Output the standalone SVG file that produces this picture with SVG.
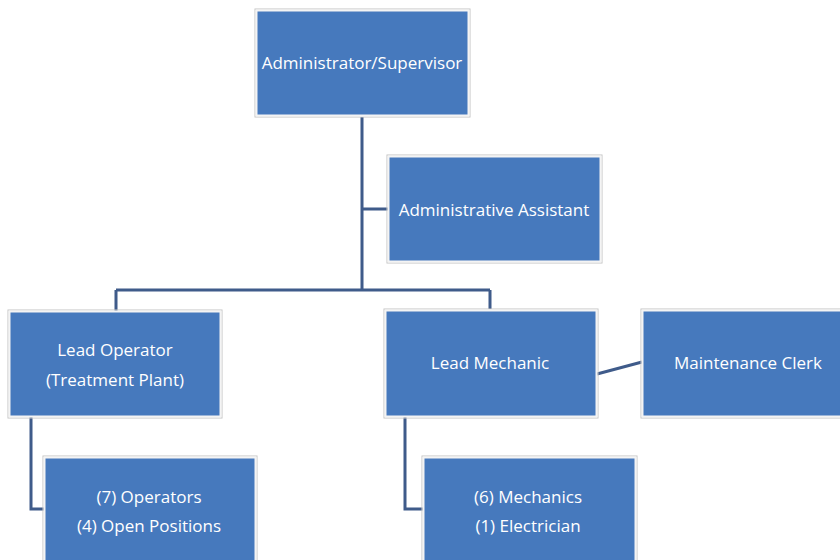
<svg xmlns="http://www.w3.org/2000/svg" width="840" height="560" viewBox="0 0 840 560">
<style>
.box{fill:#4679bd;stroke:#f4f4f4;stroke-width:2}
.frame{fill:none;stroke:#c4c4c4;stroke-width:1}
.t{font-family:"Open Sans","Liberation Sans",sans-serif;font-size:17px;fill:#ffffff;text-anchor:middle;dominant-baseline:central}
.c{fill:none;stroke:#3f5b8a;stroke-width:3}
</style>
<rect width="840" height="560" fill="#ffffff"/>
<g id="connectors">
<path class="c" d="M362 117 V290 M362 209 H388 M116 290 H490 M116 290 V311 M490 290 V309"/>
<path class="c" d="M31 417 V509 H44"/>
<path class="c" d="M405 417 V509 H423"/>
<path class="c" d="M597 374 L642 362"/>
</g>
<g id="admin">
<rect class="frame" x="255" y="9" width="215" height="108"/>
<rect class="box" x="256.5" y="10.5" width="212" height="105"/>
<text class="t" x="362" y="62">Administrator/Supervisor</text>
</g>
<g id="assistant">
<rect class="frame" x="387" y="155" width="215" height="108"/>
<rect class="box" x="388.5" y="156.5" width="212" height="105"/>
<text class="t" x="494" y="209">Administrative Assistant</text>
</g>
<g id="leadOperator">
<rect class="frame" x="8" y="310" width="214" height="108"/>
<rect class="box" x="9.5" y="311.5" width="211" height="105"/>
<text class="t" x="115" y="349">Lead Operator</text>
<text class="t" x="115" y="379">(Treatment Plant)</text>
</g>
<g id="leadMechanic">
<rect class="frame" x="384" y="309" width="214" height="109"/>
<rect class="box" x="385.5" y="310.5" width="211" height="106"/>
<text class="t" x="490" y="362">Lead Mechanic</text>
</g>
<g id="maintenanceClerk">
<rect class="frame" x="641" y="309" width="215" height="109"/>
<rect class="box" x="642.5" y="310.5" width="212" height="106"/>
<text class="t" x="748" y="362">Maintenance Clerk</text>
</g>
<g id="operators">
<rect class="frame" x="43" y="456" width="214" height="120"/>
<rect class="box" x="44.5" y="457.5" width="211" height="117"/>
<text class="t" x="149" y="496">(7) Operators</text>
<text class="t" x="149" y="525">(4) Open Positions</text>
</g>
<g id="mechanics">
<rect class="frame" x="422" y="456" width="215" height="120"/>
<rect class="box" x="423.5" y="457.5" width="212" height="117"/>
<text class="t" x="528" y="496">(6) Mechanics</text>
<text class="t" x="528" y="525">(1) Electrician</text>
</g>
</svg>
